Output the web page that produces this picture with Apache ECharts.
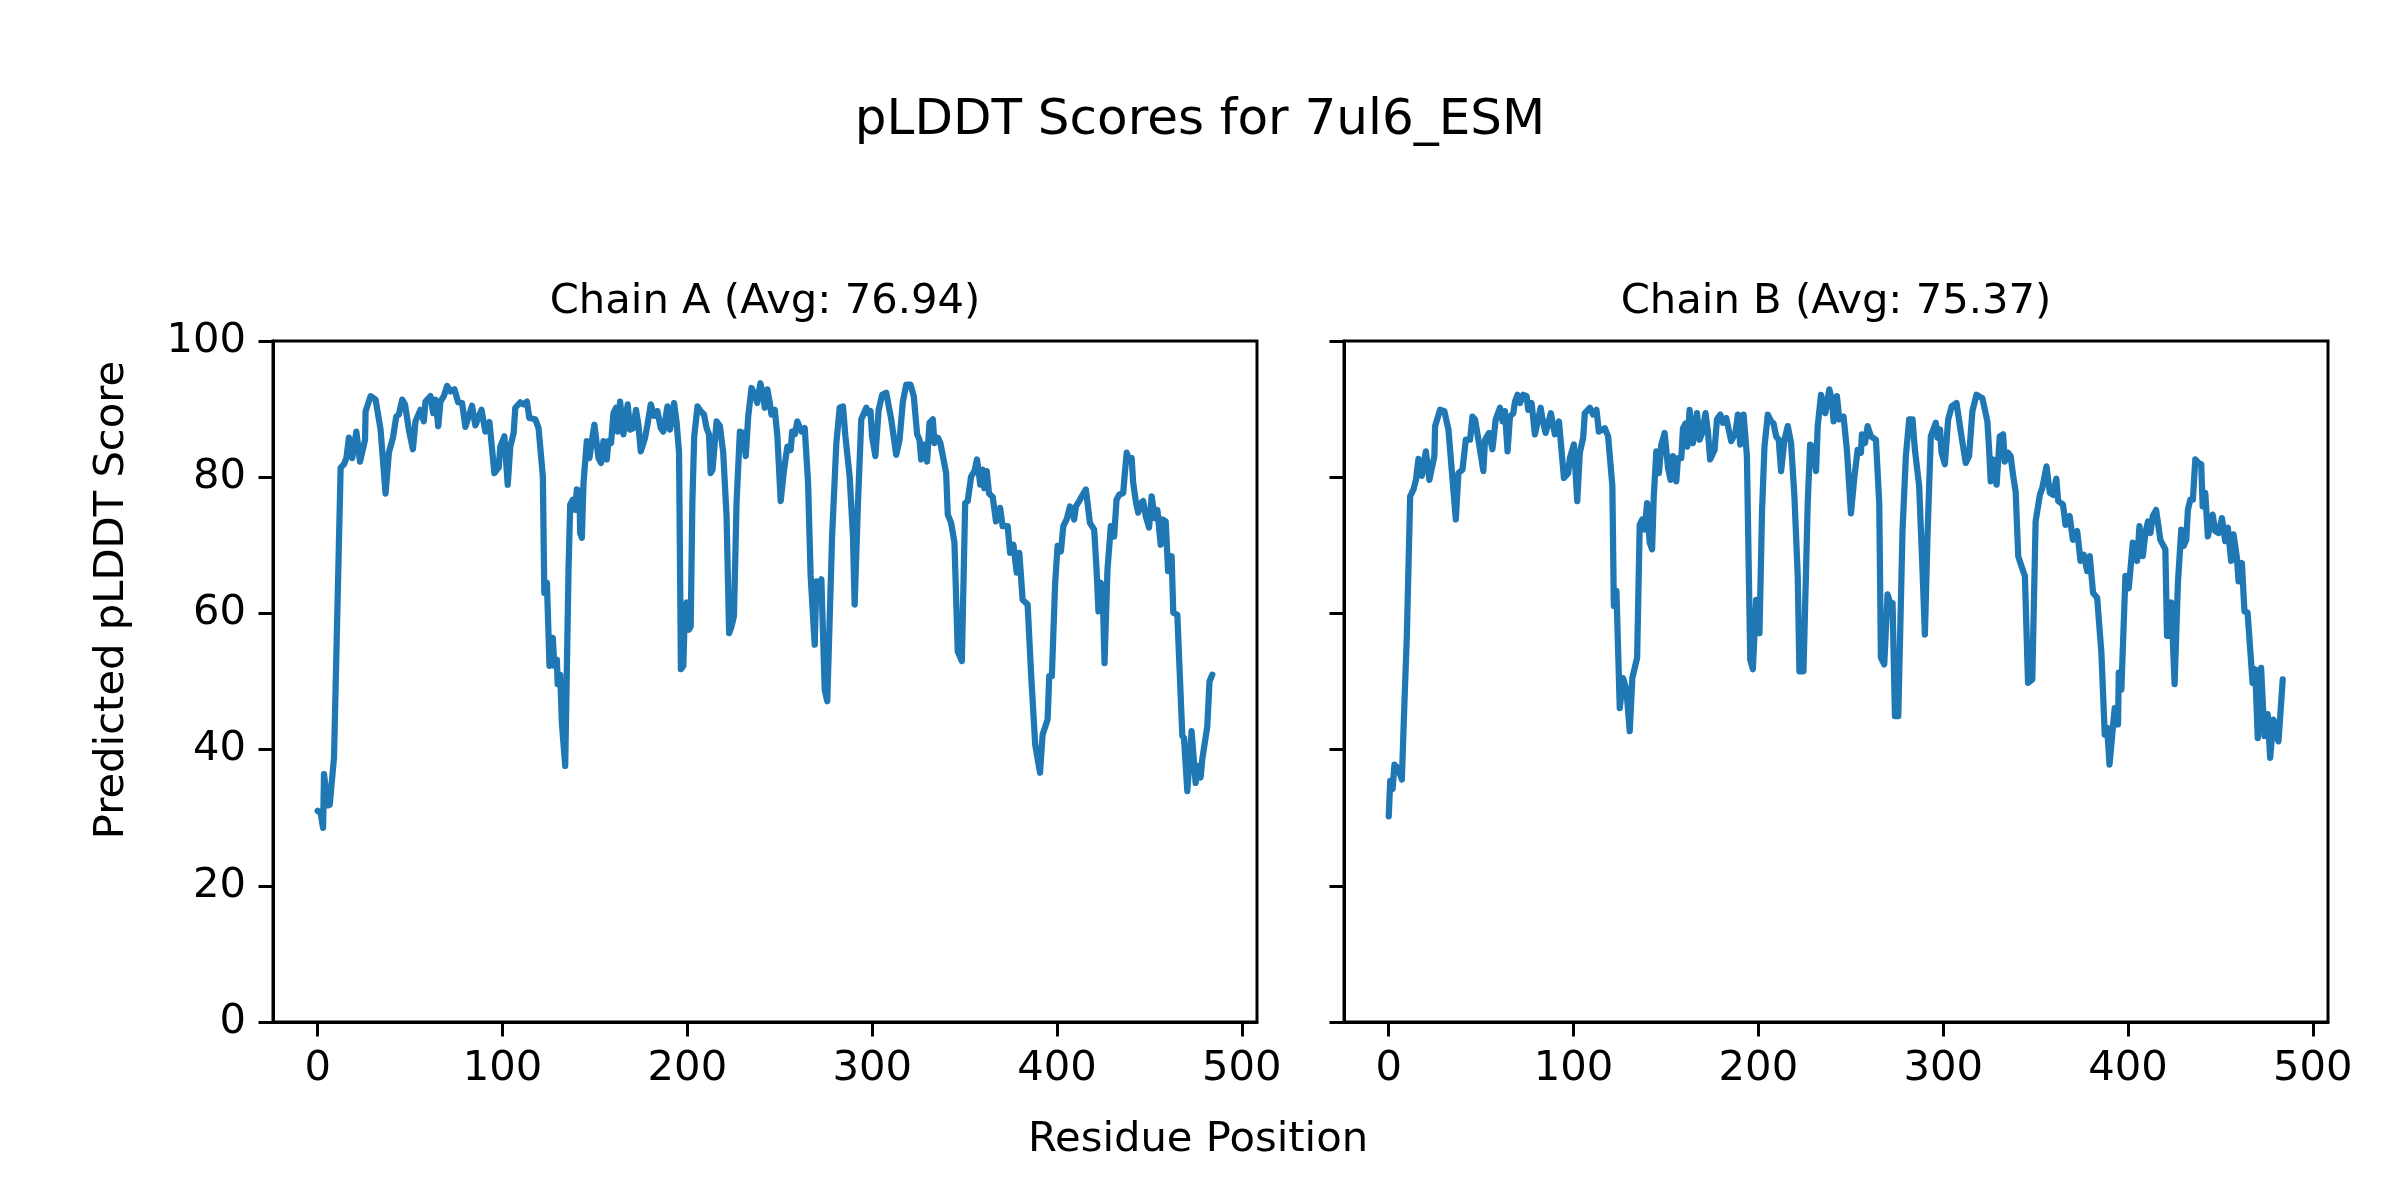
<!DOCTYPE html>
<html>
<head>
<meta charset="utf-8">
<script src="https://cdn.jsdelivr.net/npm/echarts@6/dist/echarts.min.js"></script>
<style>
html,body{margin:0;padding:0;background:#fff;}
#chart{width:2400px;height:1200px;}
</style>
</head>
<body>
<div id="chart"></div>
<script>
// ---- data ----
const figTitle = 'pLDDT Scores for 7ul6_ESM';
const chainTitles = ['Chain A (Avg: 76.94)', 'Chain B (Avg: 75.37)'];
const xLabel = 'Residue Position';
const yLabel = 'Predicted pLDDT Score';
const xTicks = [0, 100, 200, 300, 400, 500];
const yTicks = [0, 20, 40, 60, 80, 100];

const posA = [0,1.6,2.9,3.4,4.0,5.4,6.5,8.8,12.4,14.2,15.5,16.9,18.7,20.9,22.9,25.6,25.9,28.6,31.3,34.0,36.7,38.5,40.7,42.5,43.9,45.7,47.2,49.3,51.5,52.9,55.6,57.4,58.3,61.0,62.5,63.7,65.2,66.4,68.2,70.0,71.8,74.0,76.0,78.1,79.9,83.5,85.3,88.6,90.7,92.9,95.6,97.9,98.8,101.0,102.8,104.2,106.0,106.9,109.6,111.4,113.2,114.5,117.7,119.5,121.8,122.6,124.0,125.4,127.2,128.0,129.4,129.8,131.2,132.1,133.9,135.7,136.6,138.0,139.3,140.2,141.6,142.0,142.9,143.8,145.6,147.0,148.3,149.7,151.9,153.3,154.6,156.4,157.3,158.7,160.0,161.4,162.3,163.6,165.4,167.7,169.0,170.8,172.2,173.5,174.8,177.1,178.4,180.2,182.0,183.8,185.6,187.0,189.2,190.6,192.8,194.2,195.5,196.5,197.8,198.7,199.6,200.9,201.8,202.7,203.7,205.5,207.2,209.0,210.4,211.7,212.6,213.6,215.8,217.6,219.4,221.2,222.6,223.9,225.2,226.6,228.4,230.2,231.6,232.9,234.7,236.5,237.8,239.5,241.0,241.9,243.3,244.6,245.5,247.3,248.7,250.5,252.3,254.1,255.9,256.7,258.1,259.5,261.7,263.5,265.3,266.7,268.9,269.8,271.6,272.5,274.3,275.7,278.3,280.6,282.4,284.2,285.5,287.8,289.6,290.5,292.3,294.1,296.8,297.7,299.1,299.9,301.7,303.5,305.4,307.6,310.3,313.0,314.8,316.6,318.4,320.7,322.5,324.3,325.6,326.5,327.9,329.7,331.0,332.8,333.7,335.5,336.9,340.0,340.9,342.7,344.5,346.3,348.5,350.3,351.7,353.5,355.3,356.7,358.5,359.8,360.7,362.0,363.2,365.2,367.0,369.2,370.6,373.3,374.6,376.4,378.2,379.6,381.4,384.1,385.9,388.2,390.8,392.2,394.9,395.8,397.2,399.0,400.3,402.1,403.4,405.2,407.0,409.3,410.2,412.0,413.4,415.6,417.8,420.1,421.4,422.4,423.7,424.6,425.7,427.3,429.1,430.9,432.2,433.6,435.8,436.7,437.7,439.0,440.4,441.2,442.6,443.9,445.3,446.6,448.0,449.8,451.2,452.9,454.3,456.1,457.0,458.8,460.1,462.0,462.9,465.1,467.8,468.7,470.5,472.8,475.0,476.4,477.7,478.6,481.3,482.5,484.0];
const plddtA = [31.0,30.7,28.5,36.4,36.5,31.8,31.9,38.8,81.4,81.9,82.8,85.8,82.8,86.7,82.3,85.5,89.7,91.9,91.4,87.0,77.6,83.6,85.8,88.9,89.2,91.4,90.7,87.0,84.1,88.2,89.9,88.2,91.1,91.9,89.4,91.4,87.5,91.1,91.9,93.4,92.6,92.9,91.0,90.9,87.4,90.5,87.6,89.9,86.7,88.1,80.6,81.4,84.5,86.0,78.9,84.5,86.5,90.2,91.0,90.7,91.1,88.7,88.5,87.2,80.1,63.0,64.5,52.3,56.4,52.3,53.2,49.6,51.0,43.9,37.6,66.4,76.0,76.7,75.2,78.2,78.0,71.8,71.1,79.2,85.3,82.8,85.3,87.7,82.8,82.1,85.3,82.6,85.3,85.0,89.4,90.2,86.7,91.1,86.3,90.7,87.0,87.2,89.9,87.7,83.8,85.8,87.7,90.7,89.0,89.7,87.2,86.7,90.4,87.0,90.9,88.0,83.6,51.8,52.3,60.6,61.6,57.6,58.1,76.2,86.0,90.4,89.7,89.2,87.2,86.3,80.6,81.1,88.2,87.5,83.6,74.3,57.1,58.1,59.6,76.2,86.7,86.5,83.1,88.9,93.1,92.1,90.9,93.8,92.1,90.2,92.9,90.9,89.2,89.9,86.0,76.5,81.1,84.5,84.0,86.7,86.3,88.2,86.7,87.2,79.2,65.5,55.4,64.7,64.5,65.0,48.8,47.1,71.3,85.0,90.2,90.4,86.0,80.1,71.3,61.3,76.2,88.5,90.2,89.4,89.7,86.0,83.1,89.9,92.1,92.4,88.5,83.3,85.5,91.1,93.6,93.6,91.9,86.3,85.5,82.6,84.8,82.3,88.0,88.5,85.0,85.8,85.0,80.6,74.5,73.3,70.4,54.4,53.0,76.2,76.5,80.1,80.9,82.6,78.9,81.1,78.4,80.9,77.6,77.1,73.5,75.5,72.8,72.8,68.9,70.1,66.0,68.9,62.0,61.3,51.5,40.7,36.6,42.2,44.4,50.8,50.8,64.5,69.9,69.1,72.8,73.8,75.7,73.8,75.7,76.5,77.2,78.2,73.3,72.3,66.4,60.3,64.5,64.0,52.7,66.4,72.8,71.3,76.7,77.4,77.7,80.6,83.6,82.6,82.8,79.2,76.5,74.8,76.2,76.5,74.3,72.6,77.2,74.0,75.2,70.1,73.8,73.5,66.2,68.4,60.1,59.8,42.0,41.7,33.9,42.7,35.1,37.6,35.9,38.6,43.4,50.0,51.0];

const posB = [0,0.8,2.1,3.1,4.9,7.1,8.5,9.8,11.6,13.4,14.7,16.1,17.9,20.1,22.0,24.7,25.1,27.8,30.1,32.3,36.3,37.7,39.9,41.7,44.0,45.3,46.7,48.5,51.2,52.1,54.3,56.1,57.9,60.2,61.6,62.9,64.3,65.6,67.4,68.3,69.7,71.0,72.8,74.6,75.5,77.3,79.1,82.2,83.2,84.9,87.7,89.9,92.1,94.8,97.1,98.0,100.2,102.0,103.4,105.2,106.1,108.8,110.6,112.4,113.7,116.9,118.7,121.0,121.8,123.2,125.0,126.8,128.6,130.4,131.8,134.4,135.8,137.2,138.5,139.8,140.8,141.2,142.5,143.4,144.8,146.2,147.5,149.3,151.1,152.5,153.8,155.6,156.5,158.3,159.2,160.6,161.5,162.8,164.6,166.8,168.2,169.6,171.4,172.7,173.9,176.3,177.6,179.4,180.8,182.6,185.3,187.6,188.9,190.2,192.0,193.8,195.6,197.0,198.8,200.6,202.0,203.3,205.1,206.9,208.2,209.6,211.0,212.3,214.1,215.9,217.7,219.5,221.3,222.2,224.4,225.8,226.7,228.0,229.4,231.2,232.1,233.9,236.2,238.4,239.7,240.7,242.5,243.8,246.1,247.9,250.1,251.9,253.7,255.5,256.0,257.7,259.1,260.9,263.6,265.4,266.3,268.1,269.9,271.3,272.6,273.9,275.7,278.0,279.8,281.6,283.4,284.7,287.0,288.8,290.1,291.5,293.3,296.0,296.9,298.3,299.1,300.9,302.7,304.6,307.2,309.9,312.2,314.0,315.8,318.0,321.2,323.9,324.8,325.7,327.1,328.9,330.6,332.4,333.3,335.1,336.5,337.9,339.2,340.6,342.4,344.2,345.9,348.2,350.0,350.9,352.3,353.6,355.9,357.7,359.5,361.2,362.2,364.8,366.2,368.4,370.2,372.5,374.3,376.1,377.9,379.3,381.1,383.3,385.6,387.4,388.7,390.0,391.8,392.8,394.6,395.0,396.4,398.6,400.4,402.6,404.9,406.2,408.0,409.4,410.8,412.1,413.4,415.2,417.5,420.2,421.1,422.4,423.4,425.2,427.0,428.8,430.1,431.5,432.4,433.7,435.1,436.4,438.2,439.6,440.4,441.8,443.2,444.5,445.8,447.2,449.0,450.8,452.6,454.0,455.8,457.1,458.9,459.8,461.6,463.0,464.7,467.4,468.8,470.2,472.0,473.8,475.6,476.9,478.7,479.6,481.4,483.7];
const plddtB = [30.2,35.4,34.2,37.8,37.3,35.6,46.9,56.7,77.2,78.2,79.6,82.7,80.2,83.8,79.6,83.1,87.5,89.9,89.7,87.0,73.8,80.6,81.1,85.5,85.5,88.9,88.5,85.5,80.9,85.5,86.5,84.1,88.5,90.2,88.2,89.7,83.8,88.9,89.4,91.1,92.1,90.9,92.1,91.9,89.9,90.9,86.3,90.2,88.5,86.5,89.4,86.3,88.2,79.9,80.6,82.8,84.8,76.5,83.6,85.8,89.4,90.2,89.2,89.9,86.7,87.2,86.0,78.7,61.1,63.3,46.1,50.5,48.8,42.7,50.5,53.5,73.0,73.8,72.3,76.2,76.2,70.4,69.4,77.2,83.8,80.6,84.8,86.5,81.4,79.6,83.1,79.4,82.8,82.8,87.2,87.9,84.5,89.9,85.0,89.4,85.5,86.5,89.4,86.7,82.6,84.0,88.5,89.2,88.0,88.7,85.3,86.5,89.2,84.8,89.2,83.1,53.2,51.8,62.0,57.1,75.2,84.5,89.2,88.2,87.9,86.0,85.5,80.9,85.5,87.5,85.0,77.2,65.5,51.5,51.5,66.4,76.2,84.8,84.5,80.9,87.5,92.1,89.4,92.9,91.4,88.2,91.9,88.5,88.9,84.0,74.7,79.9,84.0,83.6,86.3,85.0,87.5,86.0,85.5,76.2,53.5,52.5,62.8,61.5,61.5,44.9,44.9,72.3,83.1,88.5,88.5,84.0,78.7,66.4,56.9,71.3,86.0,88.0,85.8,87.0,83.6,81.9,88.5,90.4,90.9,86.0,82.1,83.1,89.7,92.1,91.6,88.2,84.3,79.4,82.6,78.9,86.0,86.3,82.3,83.6,83.1,80.1,77.9,68.4,66.9,65.5,49.8,50.3,73.5,73.5,77.4,78.4,81.6,77.7,77.4,79.8,76.5,76.0,73.0,74.3,70.8,72.1,67.7,68.6,66.2,68.4,63.0,62.3,54.2,42.2,43.2,37.8,43.2,46.1,43.7,51.3,48.8,65.5,63.7,70.4,67.7,72.8,68.4,71.8,73.5,71.8,74.3,75.2,70.8,69.4,56.7,56.7,61.6,49.6,64.5,72.3,69.9,70.8,75.2,76.7,76.7,82.6,82.1,81.9,75.7,77.7,71.3,73.0,74.5,72.1,71.8,74.0,70.6,72.6,67.7,71.6,68.2,64.7,67.4,60.3,60.1,49.8,51.8,41.7,52.0,42.0,45.2,38.8,44.4,44.4,41.2,50.3];

// ---- layout ----
const FONT = 'DejaVu Sans';
const GRID_TOP = 341, GRID_H = 681, GRID_W = 984;
const GRID_LEFTS = [273, 1344];
const XMIN = -24.2, XMAX = 508.2;
const LINE_COLOR = '#1f77b4';

const chart = echarts.init(document.getElementById('chart'), null, {renderer: 'canvas'});

function pairs(xs, ys) { return xs.map((x, i) => [x, ys[i]]); }

const grids = GRID_LEFTS.map(l => ({
  left: l, top: GRID_TOP, width: GRID_W, height: GRID_H,
  show: true, borderColor: '#000', borderWidth: 3, backgroundColor: 'transparent',
  containLabel: false
}));

const xAxes = [0, 1].map(i => ({
  type: 'value', gridIndex: i, min: XMIN, max: XMAX,
  axisLine: {show: true, onZero: false, lineStyle: {color: '#000', width: 3}},
  axisTick: {show: true, inside: false, length: 14.5, lineStyle: {color: '#000', width: 3}, customValues: xTicks},
  axisLabel: {show: true, color: '#000', fontFamily: FONT, fontSize: 41.7, margin: 26, customValues: xTicks},
  splitLine: {show: false}
}));

const yAxes = [0, 1].map(i => ({
  type: 'value', gridIndex: i, min: 0, max: 100, interval: 20,
  axisLine: {show: true, onZero: false, lineStyle: {color: '#000', width: 3}},
  axisTick: {show: true, inside: false, length: 14.5, lineStyle: {color: '#000', width: 3}},
  axisLabel: {show: i === 0, color: '#000', fontFamily: FONT, fontSize: 41.7, margin: 27},
  splitLine: {show: false}
}));

const series = [
  {type: 'line', xAxisIndex: 0, yAxisIndex: 0, data: pairs(posA, plddtA)},
  {type: 'line', xAxisIndex: 1, yAxisIndex: 1, data: pairs(posB, plddtB)}
].map(s => Object.assign(s, {
  showSymbol: false, symbol: 'none', smooth: false, animation: false,
  lineStyle: {color: LINE_COLOR, width: 6.25, join: 'round', cap: 'round'},
  itemStyle: {color: LINE_COLOR}
}));

const textStyleBase = {fill: '#000', textAlign: 'center', textVerticalAlign: 'middle'};
const graphic = [
  {type: 'text', x: 1200, y: 121, style: Object.assign({text: figTitle, font: '50px "' + FONT + '"'}, textStyleBase)},
  {type: 'text', x: GRID_LEFTS[0] + GRID_W / 2, y: 302, style: Object.assign({text: chainTitles[0], font: '41.7px "' + FONT + '"'}, textStyleBase)},
  {type: 'text', x: GRID_LEFTS[1] + GRID_W / 2, y: 302, style: Object.assign({text: chainTitles[1], font: '41.7px "' + FONT + '"'}, textStyleBase)},
  {type: 'text', x: 1198, y: 1140, style: Object.assign({text: xLabel, font: '41.7px "' + FONT + '"'}, textStyleBase)},
  {type: 'text', x: 112, y: 600, rotation: Math.PI / 2, style: Object.assign({text: yLabel, font: '41.7px "' + FONT + '"'}, textStyleBase)}
];

chart.setOption({
  animation: false,
  backgroundColor: '#fff',
  grid: grids,
  xAxis: xAxes,
  yAxis: yAxes,
  series: series,
  graphic: graphic
});
</script>
</body>
</html>
